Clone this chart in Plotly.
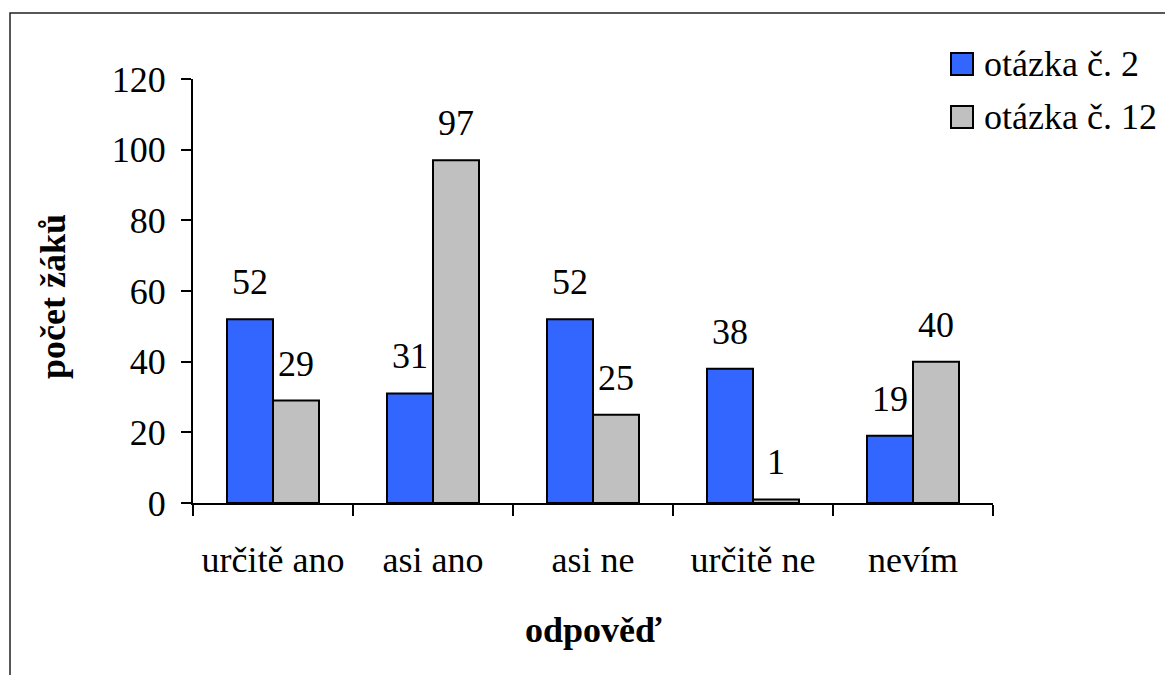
import plotly.graph_objects as go

categories = ["určitě ano", "asi ano", "asi ne", "určitě ne", "nevím"]
series_names = ["otázka č. 2", "otázka č. 12"]
q2_values = [52, 31, 52, 38, 19]
q12_values = [29, 97, 25, 1, 40]
y_ticks = [0, 20, 40, 60, 80, 100, 120]

FONT = "Liberation Serif"
colors = ["#3366FF", "#C0C0C0"]

OFF = 8  # page body margin
W, H = 1173 - OFF, 675 - OFF
L, R, T, B = 193 - OFF, 180, 79 - OFF, 172
PW, PH = W - L - R, H - T - B


def px(xp):
    return (xp - OFF - L) / PW


def py(yp):
    return (H - B - (yp - OFF)) / PH


fig = go.Figure()
for name, vals, col in zip(series_names, [q2_values, q12_values], colors):
    fig.add_trace(go.Bar(
        x=categories, y=vals, name=name,
        marker=dict(color=col, line=dict(color="black", width=2)),
        showlegend=False,
    ))

annotations = []
for vals, shift in [(q2_values, -23), (q12_values, 23)]:
    for c, v in zip(categories, vals):
        annotations.append(dict(
            x=c, y=v, xref="x", yref="y", text=str(v), showarrow=False,
            xshift=shift, yshift=37, yanchor="middle",
            font=dict(family=FONT, size=36, color="black"),
        ))

# axis titles
annotations.append(dict(
    x=0.5, y=py(630), xref="paper", yref="paper", text="<b>odpověď</b>",
    showarrow=False, xanchor="center", yanchor="middle",
    font=dict(family=FONT, size=36, color="black", weight="bold"),
))
annotations.append(dict(
    x=px(53), y=py(297), xref="paper", yref="paper", text="<b>počet žáků</b>",
    showarrow=False, xanchor="center", yanchor="middle", textangle=-90,
    font=dict(family=FONT, size=36, color="black", weight="bold"),
))

shapes = []
# legend
for i, (name, col) in enumerate(zip(series_names, colors)):
    cy = 64 + i * 53
    shapes.append(dict(
        type="rect", xref="paper", yref="paper",
        x0=px(951), x1=px(973), y0=py(cy - 11), y1=py(cy + 11),
        fillcolor=col, line=dict(color="black", width=2),
    ))
    annotations.append(dict(
        x=px(982), y=py(cy), xref="paper", yref="paper", text=name,
        showarrow=False, xanchor="left", yanchor="middle",
        font=dict(family=FONT, size=36, color="black"),
    ))

# outer frame (left and top edges visible)
shapes.append(dict(
    type="rect", xref="paper", yref="paper",
    x0=px(10), x1=px(1200), y0=py(13), y1=py(720),
    line=dict(color="#222222", width=1.5), fillcolor="rgba(0,0,0,0)",
    layer="below",
))

fig.update_layout(
    width=W, height=H,
    margin=dict(l=L, r=R, t=T, b=B, pad=0),
    paper_bgcolor="white", plot_bgcolor="white",
    barmode="group", bargap=0.425, bargroupgap=0,
    font=dict(family=FONT, size=36, color="black"),
    annotations=annotations, shapes=shapes,
    xaxis=dict(
        type="category", showline=True, linecolor="black", linewidth=2,
        ticks="outside", tickson="boundaries", ticklen=11, tickwidth=2,
        tickcolor="black", showgrid=False, zeroline=False,
        tickfont=dict(family=FONT, size=36, color="black"),
        ticklabelstandoff=24,
    ),
    yaxis=dict(
        range=[0, 120], tickvals=y_ticks, ticktext=[str(t) for t in y_ticks],
        showline=True, linecolor="black", linewidth=2,
        ticks="outside", ticklen=10, tickwidth=2, tickcolor="black",
        showgrid=False, zeroline=False,
        tickfont=dict(family=FONT, size=36, color="black"),
        ticklabelstandoff=8,
    ),
)

fig.write_html("out.html")
